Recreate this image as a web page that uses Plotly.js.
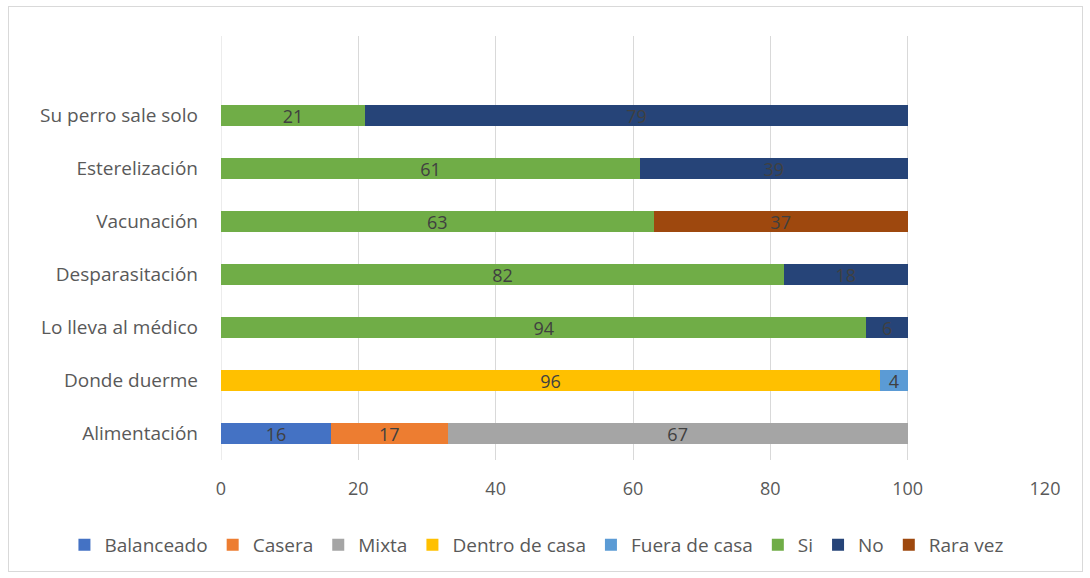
<!DOCTYPE html>
<html>
<head>
<meta charset="utf-8">
<script src="https://cdn.plot.ly/plotly-3.0.1.min.js"></script>
<style>
html,body{margin:0;padding:0;background:#fff;}
#wrap{position:relative;width:1090px;height:578px;}
#chart{width:1090px;height:578px;}
#frame{position:absolute;left:8px;top:6px;width:1073px;height:564px;border:1px solid #d9d9d9;pointer-events:none;}
</style>
</head>
<body>
<div id="wrap"><div id="chart"></div><div id="frame"></div></div>
<script>
var categories = ["Alimentación","Donde duerme","Lo lleva al médico","Desparasitación","Vacunación","Esterelización","Su perro sale solo"];

var balanceadoCats = ["Alimentación"]; var balanceadoVals = [16];
var caseraCats = ["Alimentación"]; var caseraVals = [17];
var mixtaCats = ["Alimentación"]; var mixtaVals = [67];
var dentroCats = ["Donde duerme"]; var dentroVals = [96];
var fueraCats = ["Donde duerme"]; var fueraVals = [4];
var siCats = ["Lo lleva al médico","Desparasitación","Vacunación","Esterelización","Su perro sale solo"];
var siVals = [94, 82, 63, 61, 21];
var noCats = ["Lo lleva al médico","Desparasitación","Esterelización","Su perro sale solo"];
var noVals = [6, 18, 39, 79];
var raraCats = ["Vacunación"]; var raraVals = [37];

var xTicks = [0, 20, 40, 60, 80, 100, 120];

var series = [
  {name:"Balanceado", y:balanceadoCats, x:balanceadoVals, color:"#4472C4"},
  {name:"Casera", y:caseraCats, x:caseraVals, color:"#ED7D31"},
  {name:"Mixta", y:mixtaCats, x:mixtaVals, color:"#A5A5A5"},
  {name:"Dentro de casa", y:dentroCats, x:dentroVals, color:"#FFC000"},
  {name:"Fuera de casa", y:fueraCats, x:fueraVals, color:"#5B9BD5"},
  {name:"Si", y:siCats, x:siVals, color:"#70AD47"},
  {name:"No", y:noCats, x:noVals, color:"#264478"},
  {name:"Rara vez", y:raraCats, x:raraVals, color:"#9E480E"}
];

var FONT = "Open Sans, Liberation Sans, sans-serif";

var traces = series.map(function(s){
  return {
    type:"bar", orientation:"h", name:s.name,
    x:s.x, y:s.y,
    marker:{color:s.color},
    width:0.41,
    text:s.x.map(String),
    textposition:"inside",
    insidetextanchor:"middle",
    textangle:0,
    constraintext:"none",
    textfont:{family:FONT, size:18, color:"#404040"},
    hoverinfo:"skip"
  };
});

var layout = {
  width:1090, height:578,
  paper_bgcolor:"#fff", plot_bgcolor:"#fff",
  barmode:"stack",
  margin:{l:221, r:45, t:36, b:118, pad:0},
  font:{family:FONT, color:"#595959"},
  showlegend:true,
  legend:{orientation:"h", x:-0.19, xanchor:"left", y:-0.2, yanchor:"middle",
          font:{family:FONT, size:19, color:"#595959"}, traceorder:"normal", itemwidth:30},
  xaxis:{range:[0,120], tickvals:xTicks, ticktext:xTicks.map(String), showgrid:true,
         gridcolor:"#d9d9d9", gridwidth:1, zeroline:false, showline:false, ticks:"",
         tickfont:{family:FONT, size:18, color:"#595959"}, ticklabelstandoff:16, fixedrange:true},
  yaxis:{type:"category", categoryorder:"array", categoryarray:categories, range:[-0.5,7.5],
         showgrid:false, zeroline:false, showline:false, ticks:"",
         tickfont:{family:FONT, size:19, color:"#595959"}, ticklabelstandoff:22, fixedrange:true},
  shapes:[{type:"line", xref:"x", yref:"paper", x0:0, x1:0, y0:0, y1:1, line:{color:"#d9d9d9", width:1}, layer:"below"}]
};

Plotly.newPlot("chart", traces, layout, {displayModeBar:false, staticPlot:true});
</script>
</body>
</html>
